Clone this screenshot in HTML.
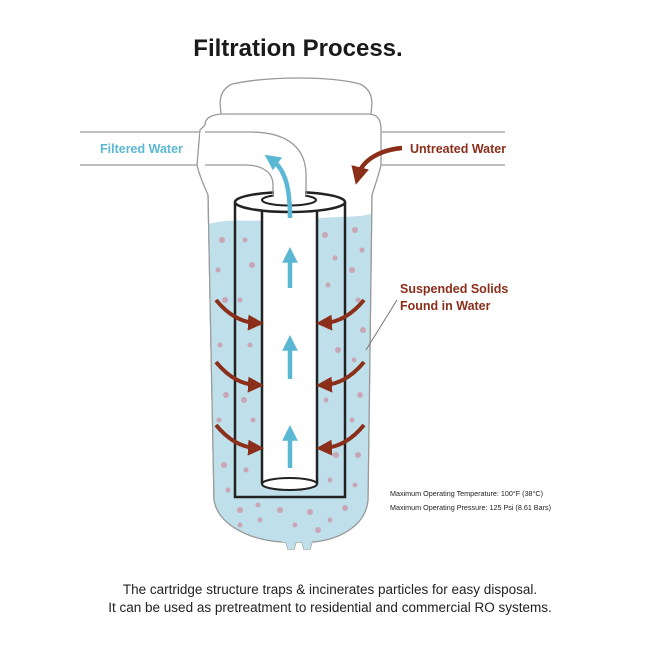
<!DOCTYPE html>
<html><head><meta charset="utf-8"><style>
html,body{margin:0;padding:0;background:#fff;width:650px;height:650px;overflow:hidden}
svg{display:block}
text{font-family:"Liberation Sans",sans-serif}
</style></head><body>
<svg width="650" height="650" viewBox="0 0 650 650" xmlns="http://www.w3.org/2000/svg">
<defs>
<marker id="rh" markerWidth="4" markerHeight="4" refX="2" refY="2" orient="auto" markerUnits="strokeWidth"><path d="M0,0 L4,2 L0,4 Z" fill="#8b2e1a"/></marker>
<marker id="bh" markerWidth="3.5" markerHeight="3.5" refX="1.5" refY="1.75" orient="auto" markerUnits="strokeWidth"><path d="M0,0 L3.5,1.75 L0,3.5 Z" fill="#5bb8d4"/></marker>
</defs>
<text x="298" y="56" text-anchor="middle" font-size="24" font-weight="bold" fill="#1a1a1a">Filtration Process.</text>
<g stroke="#999" stroke-width="1.3" fill="none">
<line x1="80" y1="132" x2="205" y2="132"/><line x1="80" y1="165" x2="210" y2="165"/>
<line x1="372" y1="132" x2="505" y2="132"/><line x1="372" y1="165" x2="505" y2="165"/>
</g>
<path d="M222,118 C218,100 220,90 232,84 C270,76 330,76 360,84 C372,90 374,100 370,118 Z" fill="#fff" stroke="#999" stroke-width="1.3"/>
<path d="M205,125 C205,116 215,114 225,114 L368,114 C378,114 381,120 381,130 L381,165 C378,178 374,188 372,195 L368,500 C366,525 340,540 312,542 L310,549 L304,549 L302,542 L296,542 L294,549 L288,549 L286,542 L282,542 C250,540 218,525 214,500 L208,195 C205,188 200,178 197,165 L200,130 Z" fill="#fff" stroke="#999" stroke-width="1.3"/>
<path d="M208,224 C230,218 250,222 270,220 L310,219 C335,216 355,218 371,214 L368,500 C366,525 340,540 312,542 L310,549 L304,549 L302,542 L296,542 L294,549 L288,549 L286,542 L282,542 C250,540 218,525 214,500 Z" fill="#bfe0eb"/>
<path d="M208,195 L214,500 C218,525 250,540 282,542 M372,195 L368,500 C366,525 340,540 312,542" fill="none" stroke="#999" stroke-width="1.2"/>
<g fill="#c8a6b6">
<circle cx="222" cy="240" r="3"/><circle cx="218" cy="270" r="2.5"/><circle cx="225" cy="300" r="3"/><circle cx="220" cy="345" r="2.5"/><circle cx="226" cy="395" r="3"/><circle cx="219" cy="420" r="2.5"/><circle cx="224" cy="465" r="3"/><circle cx="228" cy="490" r="2.5"/>
<circle cx="240" cy="510" r="3"/><circle cx="260" cy="520" r="2.5"/><circle cx="280" cy="510" r="3"/><circle cx="295" cy="525" r="2.5"/><circle cx="310" cy="512" r="3"/><circle cx="330" cy="520" r="2.5"/><circle cx="345" cy="508" r="3"/><circle cx="258" cy="505" r="2.5"/><circle cx="318" cy="530" r="3"/><circle cx="240" cy="525" r="2.5"/>
<circle cx="355" cy="230" r="3"/><circle cx="362" cy="250" r="2.5"/><circle cx="352" cy="270" r="3"/><circle cx="358" cy="300" r="2.5"/><circle cx="363" cy="330" r="3"/><circle cx="354" cy="360" r="2.5"/><circle cx="360" cy="395" r="3"/><circle cx="352" cy="420" r="2.5"/><circle cx="358" cy="455" r="3"/><circle cx="355" cy="485" r="2.5"/>
<circle cx="245" cy="240" r="2.5"/><circle cx="252" cy="265" r="3"/><circle cx="240" cy="300" r="2.5"/><circle cx="250" cy="345" r="2.5"/><circle cx="244" cy="400" r="3"/><circle cx="253" cy="420" r="2.5"/><circle cx="246" cy="470" r="2.5"/>
<circle cx="325" cy="235" r="3"/><circle cx="335" cy="258" r="2.5"/><circle cx="328" cy="285" r="2.5"/><circle cx="338" cy="350" r="3"/><circle cx="326" cy="400" r="2.5"/><circle cx="336" cy="455" r="3"/><circle cx="330" cy="480" r="2.5"/>
</g>
<path d="M235,202 L235,497 L345,497 L345,202" fill="none" stroke="#222" stroke-width="2.5"/>
<rect x="262" y="202" width="55" height="283" fill="#fff"/>
<line x1="262" y1="202" x2="262" y2="484" stroke="#222" stroke-width="2.5"/>
<line x1="317" y1="202" x2="317" y2="484" stroke="#222" stroke-width="2.5"/>
<ellipse cx="289.5" cy="484" rx="27.5" ry="6" fill="#fff" stroke="#222" stroke-width="2"/>
<ellipse cx="290" cy="202" rx="55" ry="10" fill="#fff" stroke="#222" stroke-width="2.5"/>
<ellipse cx="289" cy="200" rx="27" ry="5.5" fill="#fff" stroke="#222" stroke-width="2"/>
<path d="M200,133 L250,133 C289,133 305,150 305,175 L305,198 L274,198 L274,185 C274,172 262,164 245,164 L200,164 Z" fill="#fff"/>
<path d="M205,132 L250,132 C290,132 306,150 306,175 L306,196 M205,165 L245,165 C262,165 273,172 273,185 L273,196" fill="none" stroke="#999" stroke-width="1.3"/>
<path d="M290,218 C290,190 286,170 272,160" fill="none" stroke="#5bb8d4" stroke-width="4.5" marker-end="url(#bh)"/>
<g stroke="#5bb8d4" stroke-width="4.5" marker-end="url(#bh)">
<line x1="290" y1="288" x2="290" y2="256"/><line x1="290" y1="379" x2="290" y2="344"/><line x1="290" y1="468" x2="290" y2="434"/>
</g>
<path d="M402,148 C380,150 362,160 358,176" fill="none" stroke="#8b2e1a" stroke-width="4.5" marker-end="url(#rh)"/>
<g fill="none" stroke="#8b2e1a" stroke-width="4" marker-end="url(#rh)">
<path d="M216,300 Q234,322 256,323"/><path d="M364,300 Q346,322 324,323"/>
<path d="M216,362 Q234,384 256,385"/><path d="M364,362 Q346,384 324,385"/>
<path d="M216,425 Q234,447 256,448"/><path d="M364,425 Q346,447 324,448"/>
</g>
<line x1="397" y1="300" x2="366" y2="350" stroke="#777" stroke-width="1"/>
<text x="100" y="153" font-size="12.5" font-weight="bold" fill="#5bb8d4">Filtered Water</text>
<text x="410" y="153" font-size="12.5" font-weight="bold" fill="#8b2e1a">Untreated Water</text>
<text x="400" y="293" font-size="12.5" font-weight="bold" fill="#8b2e1a">Suspended Solids</text>
<text x="400" y="310" font-size="12.5" font-weight="bold" fill="#8b2e1a">Found in Water</text>
<text x="390" y="496" font-size="7.2" fill="#222">Maximum Operating Temperature: 100°F (38°C)</text>
<text x="390" y="510" font-size="7.2" fill="#222">Maximum Operating Pressure: 125 Psi (8.61 Bars)</text>
<text x="330" y="594" text-anchor="middle" font-size="13.5" fill="#222">The cartridge structure traps &amp; incinerates particles for easy disposal.</text>
<text x="330" y="612" text-anchor="middle" font-size="13.5" fill="#222">It can be used as pretreatment to residential and commercial RO systems.</text>
</svg>
</body></html>
